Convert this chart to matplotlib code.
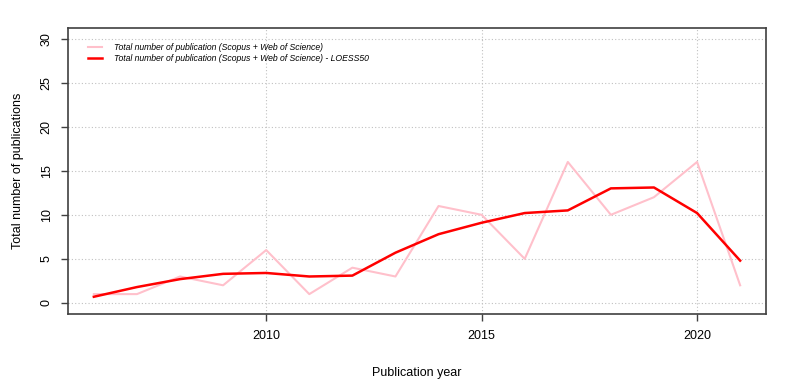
import numpy as np
import matplotlib.pyplot as plt

plt.rcParams['font.family'] = ['Liberation Sans', 'DejaVu Sans']

years = np.arange(2006, 2022)
total = [1, 1, 3, 2, 6, 1, 4, 3, 11, 10, 5, 16, 10, 12, 16, 2]
loess50 = [0.7, 1.8, 2.7, 3.3, 3.4, 3.0, 3.1, 5.7, 7.8, 9.1, 10.2, 10.5, 13.0, 13.1, 10.2, 4.8]

label1 = 'Total number of publication (Scopus + Web of Science)'
label2 = 'Total number of publication (Scopus + Web of Science) - LOESS50'

fig = plt.figure(figsize=(8.04, 3.84), dpi=100)
ax = fig.add_axes([68 / 804, 1 - 313.5 / 384, (766 - 68) / 804, (313.5 - 28) / 384])

ax.plot(years, total, color='#FFC0CB', lw=1.5, label=label1)
ax.plot(years, loess50, color='red', lw=1.8, label=label2)

ax.set_xlim(2006 - 0.6, 2021 + 0.6)
ax.set_ylim(-1.2, 31.2)
ax.set_xticks([2010, 2015, 2020])
ax.set_yticks(range(0, 31, 5))
ax.grid(True, color='#C0C0C0', ls=(0, (1, 2)), lw=0.8)
ax.set_axisbelow(True)

for s in ax.spines.values():
    s.set_color('#404040')
    s.set_linewidth(1.2)

ax.tick_params(axis='both', labelsize=9, color='#404040', length=5, width=1)
ax.tick_params(axis='x', pad=7)
ax.tick_params(axis='y', pad=6)
for t in ax.get_yticklabels():
    t.set_rotation(90)
    t.set_va('center')

ax.set_xlabel('Publication year', fontsize=9)
ax.xaxis.set_label_coords(0.5, (313.5 - 373) / 285.5)
ax.xaxis.label.set_va('center')
ax.set_ylabel('Total number of publications', fontsize=9)
ax.yaxis.set_label_coords((18 - 68) / 698, 0.5)
ax.yaxis.label.set_va('center')

leg = ax.legend(loc='upper left', frameon=False, prop={'style': 'italic', 'size': 6.2},
                handlelength=1.6, handletextpad=1.4, borderaxespad=0.3,
                bbox_to_anchor=(0.02, 0.97), labelspacing=0.3)

fig.savefig('out.png', dpi=100)
